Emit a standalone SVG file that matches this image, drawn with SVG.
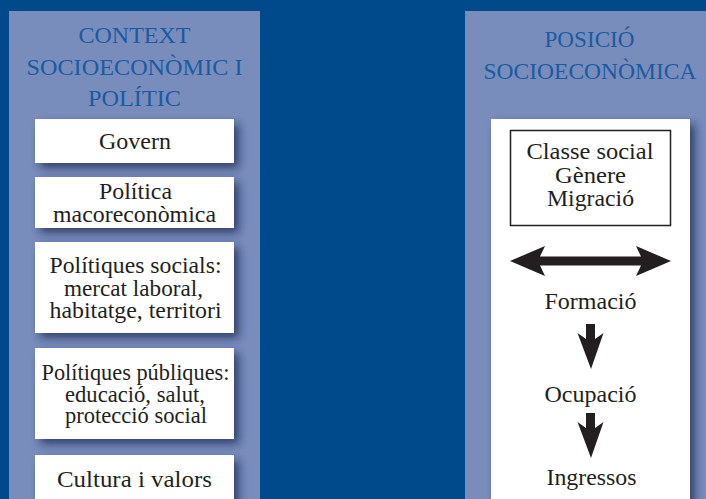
<svg xmlns="http://www.w3.org/2000/svg" width="706" height="499" viewBox="0 0 706 499">
  <style>
    .panel { fill: #798dbd; }
    .card { fill: #ffffff; filter: url(#shadow); }
    .title { font-family: 'Liberation Serif', 'DejaVu Serif', serif; font-size: 24px; fill: #1b5b9f; text-anchor: middle; }
    .label { font-family: 'Liberation Serif', 'DejaVu Serif', serif; font-size: 23px; fill: #231f20; text-anchor: middle; }
    .arrow { fill: #231f20; }
  </style>
  <defs>
    <filter id="shadow" x="-20%" y="-30%" width="150%" height="180%">
      <feDropShadow dx="5" dy="5" stdDeviation="5" flood-color="#1b2550" flood-opacity="0.75"/>
    </filter>
  </defs>

  <!-- background -->
  <rect x="0" y="0" width="706" height="499" fill="#004a8c"/>

  <!-- left column: context -->
  <g id="context">
    <rect class="panel" x="9" y="11" width="251" height="500"/>
    <text class="title" x="134.5" y="43" textLength="112" lengthAdjust="spacingAndGlyphs">CONTEXT</text>
    <text class="title" x="134.5" y="75" textLength="216" lengthAdjust="spacingAndGlyphs">SOCIOECONÒMIC I</text>
    <text class="title" x="134.5" y="106" textLength="93" lengthAdjust="spacingAndGlyphs">POLÍTIC</text>
  </g>

  <g id="govern">
    <rect class="card" x="35" y="119" width="199" height="44"/>
    <text class="label" x="135" y="149" textLength="72" lengthAdjust="spacingAndGlyphs">Govern</text>
  </g>

  <g id="politica-macro">
    <rect class="card" x="35" y="177" width="199" height="51"/>
    <text class="label" x="135.5" y="199" textLength="73" lengthAdjust="spacingAndGlyphs">Política</text>
    <text class="label" x="134.5" y="222" textLength="163" lengthAdjust="spacingAndGlyphs">macoreconòmica</text>
  </g>

  <g id="politiques-socials">
    <rect class="card" x="35" y="242" width="199" height="91"/>
    <text class="label" x="135.5" y="273" textLength="172" lengthAdjust="spacingAndGlyphs">Polítiques socials:</text>
    <text class="label" x="133.5" y="296" textLength="139" lengthAdjust="spacingAndGlyphs">mercat laboral,</text>
    <text class="label" x="135.5" y="318" textLength="172" lengthAdjust="spacingAndGlyphs">habitatge, territori</text>
  </g>

  <g id="politiques-publiques">
    <rect class="card" x="35" y="348" width="199" height="91"/>
    <text class="label" x="135.5" y="380" textLength="188" lengthAdjust="spacingAndGlyphs">Polítiques públiques:</text>
    <text class="label" x="135" y="402" textLength="140" lengthAdjust="spacingAndGlyphs">educació, salut,</text>
    <text class="label" x="136" y="423" textLength="142" lengthAdjust="spacingAndGlyphs">protecció social</text>
  </g>

  <g id="cultura">
    <rect class="card" x="35" y="455" width="199" height="60"/>
    <text class="label" x="134.5" y="487" textLength="155" lengthAdjust="spacingAndGlyphs">Cultura i valors</text>
  </g>

  <!-- right column: socioeconomic position -->
  <g id="posicio">
    <rect class="panel" x="465" y="11" width="250" height="500"/>
    <text class="title" x="589.5" y="47" textLength="90" lengthAdjust="spacingAndGlyphs">POSICIÓ</text>
    <text class="title" x="590" y="79" textLength="213" lengthAdjust="spacingAndGlyphs">SOCIOECONÒMICA</text>
    <rect class="card" x="491" y="119" width="199" height="400"/>
  </g>

  <g id="eixos">
    <rect x="510.5" y="130.5" width="160" height="95" fill="none" stroke="#231f20" stroke-width="1.5"/>
    <text class="label" x="590" y="159" textLength="127" lengthAdjust="spacingAndGlyphs">Classe social</text>
    <text class="label" x="590.5" y="183" textLength="71" lengthAdjust="spacingAndGlyphs">Gènere</text>
    <text class="label" x="590.5" y="206" textLength="87" lengthAdjust="spacingAndGlyphs">Migració</text>
  </g>

  <g id="formacio">
    <text class="label" x="590.5" y="309" textLength="92" lengthAdjust="spacingAndGlyphs">Formació</text>
  </g>

  <g id="ocupacio">
    <text class="label" x="590.5" y="402" textLength="92" lengthAdjust="spacingAndGlyphs">Ocupació</text>
  </g>

  <g id="ingressos">
    <text class="label" x="591.5" y="485" textLength="90" lengthAdjust="spacingAndGlyphs">Ingressos</text>
  </g>

  <!-- connectors -->
  <g id="connectors">
    <polygon class="arrow" points="510,261 545,246 540,256.5 641,256.5 636,246 671,261 636,276 641,265.5 540,265.5 545,276"/>
    <polygon class="arrow" points="586,324 595,324 595,339 603.5,333 591,369 577.5,333 586,339"/>
    <polygon class="arrow" points="586,413 595,413 595,428 603.5,422 591,458 577.5,422 586,428"/>
  </g>
</svg>
